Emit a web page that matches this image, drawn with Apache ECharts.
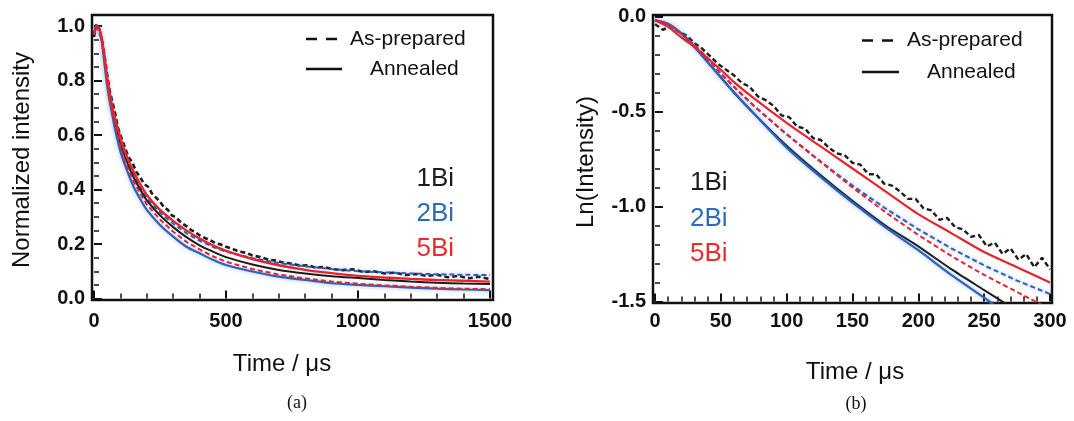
<!DOCTYPE html>
<html><head><meta charset="utf-8">
<script src="https://cdn.jsdelivr.net/npm/echarts@6/dist/echarts.min.js"></script>
<style>html,body{margin:0;padding:0;background:#fff}#c{width:1074px;height:421px}</style>
</head><body><div id="c"></div>
<script>
// ---------- Panel (a): normalized intensity vs time (µs) ----------
const timeA = [0,10,20,30,40,50,60,70,80,100,125,150,175,200,250,300,350,400,450,500,600,700,800,900,1000,1100,1200,1300,1400,1500];
const a2BiAnnealed = [0.97,1.0,0.99,0.94,0.86,0.78,0.72,0.67,0.62,0.54,0.47,0.41,0.365,0.325,0.27,0.227,0.19,0.166,0.142,0.123,0.099,0.080,0.068,0.056,0.050,0.045,0.040,0.036,0.033,0.031];
const a5BiPrepared = [0.97,1.0,0.99,0.945,0.87,0.79,0.73,0.68,0.635,0.555,0.485,0.43,0.385,0.345,0.29,0.245,0.208,0.18,0.155,0.135,0.108,0.088,0.074,0.062,0.054,0.048,0.043,0.039,0.036,0.034];
const a1BiAnnealed = [0.97,1.0,0.99,0.945,0.875,0.80,0.74,0.69,0.645,0.565,0.5,0.445,0.4,0.36,0.305,0.262,0.225,0.195,0.172,0.152,0.125,0.105,0.092,0.082,0.075,0.068,0.062,0.058,0.055,0.053];
const a5BiAnnealed = [0.97,1.0,0.99,0.95,0.885,0.81,0.75,0.70,0.66,0.59,0.52,0.465,0.42,0.38,0.325,0.285,0.25,0.22,0.195,0.175,0.145,0.122,0.105,0.093,0.083,0.077,0.072,0.068,0.065,0.062];
const a2BiPrepared = [0.97,1.0,0.99,0.945,0.875,0.80,0.74,0.69,0.645,0.57,0.505,0.45,0.405,0.37,0.315,0.275,0.24,0.212,0.19,0.172,0.148,0.13,0.118,0.108,0.10,0.096,0.092,0.089,0.087,0.086];
const timeA1Bi = [0,10,20,30,40,50,60,70,80,90,100,115,130,145,160,175,190,205,220,235,250,265,280,295,310,325,340,355,370,385,400,420,440,460,480,500,525,550,575,600,630,660,690,720,750,780,810,840,870,900,940,980,1020,1060,1100,1140,1180,1220,1260,1300,1340,1380,1420,1460,1500];
const a1BiPrepared = [0.96,1.01,0.98,0.95,0.89,0.82,0.76,0.72,0.68,0.63,0.60,0.56,0.52,0.50,0.465,0.445,0.42,0.41,0.385,0.37,0.355,0.335,0.325,0.305,0.298,0.283,0.272,0.262,0.25,0.243,0.232,0.222,0.214,0.203,0.198,0.19,0.182,0.172,0.168,0.158,0.152,0.143,0.139,0.131,0.128,0.121,0.122,0.113,0.116,0.108,0.104,0.107,0.097,0.1,0.092,0.095,0.086,0.09,0.083,0.087,0.078,0.083,0.074,0.08,0.071];

// ---------- Panel (b): ln(intensity) vs time (µs) ----------
const timeB = [0,10,20,30,40,50,60,75,100,125,150,175,200,225,250,275,300];
const b2BiAnnealed = [-0.02,-0.04,-0.09,-0.16,-0.24,-0.32,-0.40,-0.51,-0.69,-0.84,-0.98,-1.11,-1.23,-1.36,-1.48,-1.61,null];
const b1BiAnnealed = [-0.02,-0.04,-0.09,-0.16,-0.24,-0.32,-0.40,-0.51,-0.68,-0.83,-0.97,-1.10,-1.21,-1.33,-1.44,-1.55,null];
const b2BiPrepared = [-0.02,-0.04,-0.09,-0.15,-0.22,-0.30,-0.37,-0.47,-0.62,-0.76,-0.89,-1.01,-1.12,-1.22,-1.31,-1.39,-1.46];
const b5BiPrepared = [-0.02,-0.04,-0.09,-0.15,-0.22,-0.30,-0.37,-0.47,-0.62,-0.76,-0.90,-1.03,-1.15,-1.26,-1.36,-1.45,-1.54];
const b5BiAnnealed = [-0.02,-0.055,-0.11,-0.16,-0.22,-0.28,-0.345,-0.43,-0.56,-0.68,-0.80,-0.92,-1.04,-1.14,-1.24,-1.32,-1.40];
const timeB1Bi = [0,6,12,18,24,30,36,42,48,54,60,66,72,78,84,90,96,102,108,114,120,126,132,138,144,150,156,162,168,174,180,186,192,198,204,210,216,222,228,234,240,246,252,258,264,270,276,282,288,294,300];
const b1BiPrepared = [-0.04,-0.07,-0.05,-0.08,-0.10,-0.14,-0.17,-0.21,-0.25,-0.28,-0.31,-0.35,-0.37,-0.42,-0.44,-0.47,-0.52,-0.53,-0.58,-0.59,-0.64,-0.65,-0.69,-0.72,-0.73,-0.77,-0.78,-0.83,-0.83,-0.88,-0.89,-0.92,-0.96,-0.96,-1.01,-1.02,-1.07,-1.06,-1.11,-1.12,-1.16,-1.15,-1.21,-1.19,-1.25,-1.22,-1.28,-1.25,-1.32,-1.27,-1.33];

// ---------- Tick / label texts ----------
const legendLabels = ['As-prepared', 'Annealed'];
const sampleLabels = ['1Bi', '2Bi', '5Bi'];
const axisTitles = { aX: 'Time / μs', aY: 'Normalized intensity', bX: 'Time / μs', bY: 'Ln(Intensity)' };
const panelLabels = ['(a)', '(b)'];

const BLACK = '#1c1c1c', BLUE = '#2b61b6', RED = '#e8232b';
const SANS = '"Liberation Sans", Arial, sans-serif';
const SERIF = '"Liberation Serif", "Times New Roman", serif';

function pairs(t, v) { return t.map((x, i) => [x, v[i]]); }
function line(name, t, v, color, dashed, axis, width) {
  const s = {
    name, type: 'line', xAxisIndex: axis, yAxisIndex: axis,
    data: pairs(t, v), showSymbol: false, symbol: 'none', smooth: dashed ? false : 0.25,
    connectNulls: false, animation: false,
    lineStyle: { color, width: width || 2.2, type: dashed ? [5, 3] : 'solid', cap: 'butt' }
  };
  if (color === BLUE) { s.lineStyle.shadowColor = 'rgba(70,120,215,0.55)'; s.lineStyle.shadowBlur = 4; }
  return s;
}

function dispAxisX(grid, max, interval, split, margin) {
  return {
    gridIndex: grid, type: 'value', min: 0, max, interval, position: 'bottom',
    axisLine: { show: false, onZero: false }, splitLine: { show: false },
    axisTick: { show: true, inside: true, length: 8, lineStyle: { color: '#111', width: 2 } },
    minorTick: { show: true, splitNumber: split, length: 5, lineStyle: { color: '#111', width: 1.5 } },
    axisLabel: { fontFamily: SANS, fontSize: 20, fontWeight: 'bold', color: '#111', margin,
      formatter: v => String(Math.round(v)) }
  };
}
function dispAxisY(grid, min, max, interval, split, margin) {
  return {
    gridIndex: grid, type: 'value', min, max, interval, position: 'left',
    axisLine: { show: false, onZero: false }, splitLine: { show: false },
    axisTick: { show: true, inside: true, length: 8, lineStyle: { color: '#111', width: 2 } },
    minorTick: { show: true, splitNumber: split, length: 5, lineStyle: { color: '#111', width: 1.5 } },
    axisLabel: { fontFamily: SANS, fontSize: 20, fontWeight: 'bold', color: '#111', margin,
      formatter: v => (Math.abs(v) < 1e-9 ? 0 : v).toFixed(1) }
  };
}

const txt = (text, x, y, size, fill, align, extra) => Object.assign({
  type: 'text', x, y, silent: true,
  style: { text, fontFamily: SANS, fontSize: size, fill, align: align || 'left', verticalAlign: 'middle' }
}, extra || {});

const chart = echarts.init(document.getElementById('c'), null, { renderer: 'canvas' });
chart.setOption({
  animation: false,
  backgroundColor: '#ffffff',
  grid: [
    { left: 92, top: 15, width: 401, height: 285, show: true, borderColor: '#111', borderWidth: 2.5, outerBoundsMode: 'none' },
    { left: 94, top: 26, width: 396, height: 272.5, show: false, outerBoundsMode: 'none' },
    { left: 653, top: 15, width: 399, height: 288, show: true, borderColor: '#111', borderWidth: 2.5, outerBoundsMode: 'none' },
    { left: 655, top: 16.5, width: 395, height: 285, show: false, outerBoundsMode: 'none' }
  ],
  xAxis: [
    { gridIndex: 0, type: 'value', min: -7.576, max: 1511.36, show: false },
    dispAxisX(1, 1500, 500, 5, 13),
    { gridIndex: 2, type: 'value', min: -1.519, max: 301.519, show: false },
    dispAxisX(3, 300, 50, 5, 10)
  ],
  yAxis: [
    { gridIndex: 0, type: 'value', min: -0.0055, max: 1.0404, show: false },
    dispAxisY(1, 0, 1, 0.2, 4, 9),
    { gridIndex: 2, type: 'value', min: -1.5079, max: 0.0079, show: false },
    dispAxisY(3, -1.5, 0, 0.5, 5, 9)
  ],
  series: [
    line('1Bi as-prepared', timeA1Bi, a1BiPrepared, BLACK, true, 0, 2.6),
    line('2Bi as-prepared', timeA, a2BiPrepared, BLUE, true, 0, 2),
    line('1Bi annealed', timeA, a1BiAnnealed, BLACK, false, 0, 2),
    line('2Bi annealed', timeA, a2BiAnnealed, BLUE, false, 0, 2.2),
    line('5Bi as-prepared', timeA, a5BiPrepared, RED, true, 0, 2),
    line('5Bi annealed', timeA, a5BiAnnealed, RED, false, 0, 2.4),

    line('1Bi as-prepared', timeB1Bi, b1BiPrepared, BLACK, true, 2, 2.4),
    line('2Bi as-prepared', timeB, b2BiPrepared, BLUE, true, 2, 2),
    line('1Bi annealed', timeB, b1BiAnnealed, BLACK, false, 2, 2),
    line('2Bi annealed', timeB, b2BiAnnealed, BLUE, false, 2, 2.2),
    line('5Bi as-prepared', timeB, b5BiPrepared, RED, true, 2, 2),
    line('5Bi annealed', timeB, b5BiAnnealed, RED, false, 2, 2.2)
  ],
  graphic: [
    // panel (a) legend
    { type: 'line', silent: true, shape: { x1: 306, y1: 39, x2: 338, y2: 39 }, style: { stroke: '#111', lineWidth: 2.5, lineDash: [11, 9] } },
    txt(legendLabels[0], 350, 39, 21, '#111'),
    { type: 'line', silent: true, shape: { x1: 306, y1: 69, x2: 342, y2: 69 }, style: { stroke: '#111', lineWidth: 2.5 } },
    txt(legendLabels[1], 370, 69, 21, '#111'),
    txt(sampleLabels[0], 454, 178.5, 26, BLACK, 'right'),
    txt(sampleLabels[1], 454, 214, 26, '#2e6cb8', 'right'),
    txt(sampleLabels[2], 454, 249, 26, '#ee2a2f', 'right'),
    txt(axisTitles.aX, 282, 364, 24, '#111', 'center'),
    txt(axisTitles.aY, 22, 160, 24, '#111', 'center', { rotation: Math.PI / 2 }),
    { type: 'text', x: 297, y: 403, silent: true, style: { text: panelLabels[0], fontFamily: SERIF, fontSize: 18, fill: '#111', align: 'center', verticalAlign: 'middle' } },

    // panel (b) legend
    { type: 'line', silent: true, shape: { x1: 862, y1: 40.5, x2: 894, y2: 40.5 }, style: { stroke: '#111', lineWidth: 2.5, lineDash: [11, 9] } },
    txt(legendLabels[0], 907, 40.5, 21, '#111'),
    { type: 'line', silent: true, shape: { x1: 862, y1: 72, x2: 899, y2: 72 }, style: { stroke: '#111', lineWidth: 2.5 } },
    txt(legendLabels[1], 927, 72, 21, '#111'),
    txt(sampleLabels[0], 690, 183, 26, BLACK, 'left'),
    txt(sampleLabels[1], 690, 218.5, 26, '#2e6cb8', 'left'),
    txt(sampleLabels[2], 690, 254, 26, '#ee2a2f', 'left'),
    txt(axisTitles.bX, 855, 372, 24, '#111', 'center'),
    txt(axisTitles.bY, 586, 162, 24, '#111', 'center', { rotation: Math.PI / 2 }),
    { type: 'text', x: 856, y: 404, silent: true, style: { text: panelLabels[1], fontFamily: SERIF, fontSize: 18, fill: '#111', align: 'center', verticalAlign: 'middle' } }
  ]
});
</script>
</body></html>
